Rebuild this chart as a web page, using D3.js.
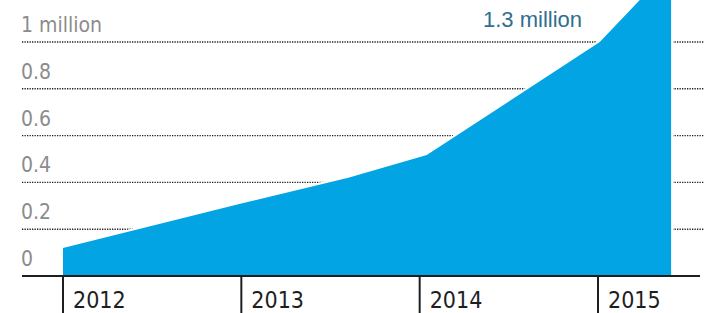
<!DOCTYPE html>
<html>
<head>
<meta charset="utf-8">
<script src="https://cdn.jsdelivr.net/npm/d3@7"></script>
<style>
  html, body { margin: 0; padding: 0; background: #fff; }
  svg { display: block; }
</style>
</head>
<body>
<svg id="chart" width="704" height="313"></svg>
<script>
// ---- data ----
const years = [2012, 2013, 2013.6, 2014.04, 2015.01, 2015.41];
const values = [0.12, 0.31, 0.42, 0.517, 1.0, 1.32];   // millions
const yTicks = [0, 0.2, 0.4, 0.6, 0.8, 1];
const yTickLabels = ["0", "0.2", "0.4", "0.6", "0.8", "1 million"];
const xTicks = [2012, 2013, 2014, 2015];
const xTickLabels = ["2012", "2013", "2014", "2015"];
const endLabel = "1.3 million";

const data = years.map((t, i) => ({ t, v: values[i] }));

const svg = d3.select("#chart");
const W = 704, H = 313;

const x = d3.scaleLinear().domain([2012, 2015]).range([63, 598]);
const y = d3.scaleLinear().domain([0, 1]).range([276, 42]);

// gridlines (dotted)
svg.append("g")
  .selectAll("line")
  .data(yTicks.filter(d => d > 0))
  .join("line")
  .attr("x1", 22).attr("x2", W)
  .attr("y1", d => y(d)).attr("y2", d => y(d))
  .attr("stroke", "#222")
  .attr("stroke-width", 1.4)
  .attr("stroke-dasharray", "1.3,1.2");

// y tick labels
svg.append("g")
  .selectAll("text")
  .data(yTicks)
  .join("text")
  .attr("x", 21)
  .attr("y", d => y(d) - 10)
  .attr("font-family", "'DejaVu Sans Condensed', 'DejaVu Sans', sans-serif")
  .attr("font-stretch", "condensed")
  .attr("font-size", 21)
  .attr("fill", "#8c8c8c")
  .text((d, i) => yTickLabels[i]);

// area
const area = d3.area()
  .x(d => x(d.t))
  .y0(y(0))
  .y1(d => y(d.v))
  .curve(d3.curveLinear);

svg.append("path")
  .datum(data)
  .attr("d", area)
  .attr("fill", "#03a4e3")
  .attr("stroke", "#fff")
  .attr("stroke-width", 4)
  .attr("stroke-linejoin", "round")
  .style("paint-order", "stroke");

// x axis baseline
svg.append("line")
  .attr("x1", 22).attr("x2", 700)
  .attr("y1", y(0)).attr("y2", y(0))
  .attr("stroke", "#1e1e1e")
  .attr("stroke-width", 2.2);

// x ticks
const xg = svg.append("g");
xg.selectAll("line")
  .data(xTicks)
  .join("line")
  .attr("x1", d => x(d)).attr("x2", d => x(d))
  .attr("y1", y(0)).attr("y2", H)
  .attr("stroke", "#1e1e1e")
  .attr("stroke-width", 2);

xg.selectAll("text")
  .data(xTicks)
  .join("text")
  .attr("x", d => x(d) + 10)
  .attr("y", 308)
  .attr("font-family", "'DejaVu Sans Condensed', 'DejaVu Sans', sans-serif")
  .attr("font-stretch", "condensed")
  .attr("font-size", 23)
  .attr("fill", "#1e1e1e")
  .text((d, i) => xTickLabels[i]);

// end label
svg.append("text")
  .attr("x", 483)
  .attr("y", 27)
  .attr("font-family", "'Liberation Sans', Arial, sans-serif")
  .attr("font-size", 22)
  .attr("fill", "#2f6f8f")
  .text(endLabel);
</script>
</body>
</html>
